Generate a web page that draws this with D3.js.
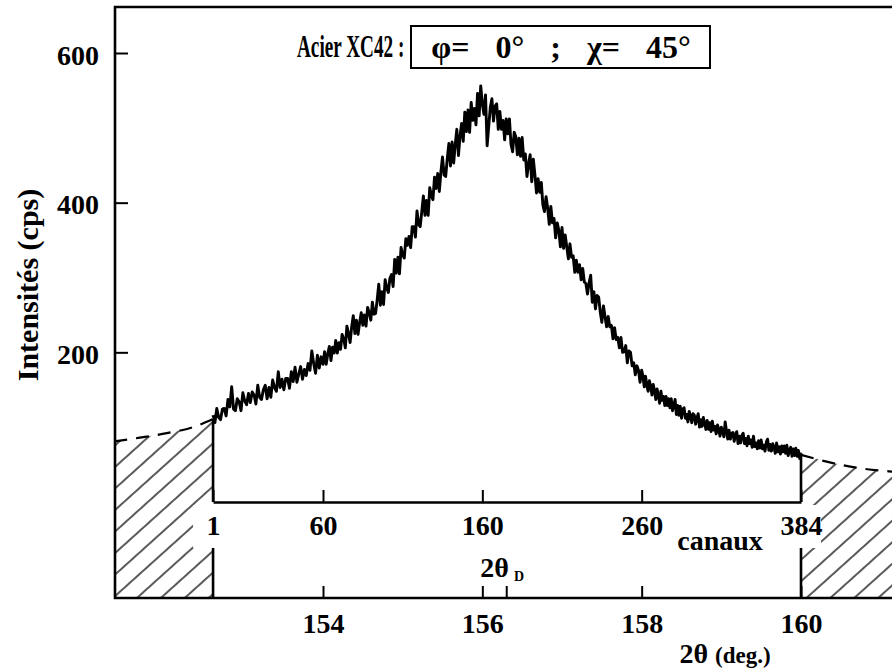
<!DOCTYPE html>
<html><head><meta charset="utf-8">
<script src="https://cdn.jsdelivr.net/npm/d3@7"></script>
<style>
body{margin:0;background:#fff}
svg{display:block}
text{font-family:"Liberation Serif","Times New Roman",serif;font-weight:bold;fill:#000}
</style>
</head><body><svg id="c" width="892" height="672"></svg>
<script>
// ---- data ----
const yTicks = [200, 400, 600];
const twoThetaTicks = [154, 156, 158, 160];
const twoThetaD = 156.3;
const channelTicks = [1, 60, 160, 260, 384];
const channelAt2Theta = [152.62, 154, 156, 158, 160];
const channelTickLabels = ["1", "60", "160", "260", "384"];
// measured intensity (cps), channels 1..384
const intensity = [
  116,106,125,113,110,124,125,115,137,127, 154,124,122,138,134,122,146,135,130,145,
  133,147,143,131,156,140,137,150,156,138, 153,140,163,153,148,174,153,164,150,165,
  165,152,174,161,180,160,171,181,164,177, 169,185,176,202,185,172,196,179,194,184,
  201,184,198,208,189,207,199,216,199,213, 204,224,218,206,235,225,213,234,249,225,
  243,224,240,253,236,250,235,260,253,243, 267,251,252,270,291,263,281,264,297,286,
  280,299,304,288,324,306,327,305,340,330, 326,352,343,355,340,368,368,354,389,371,
  368,388,409,383,403,383,420,410,404,434, 419,439,415,441,461,437,435,459,479,449,
  481,453,478,498,463,489,506,482,521,495, 524,494,534,510,526,504,546,516,556,532,
  518,544,476,502,527,539,509,529,532,498, 522,498,510,484,512,492,512,478,468,494,
  488,464,486,462,487,457,465,435,452,464, 428,458,437,413,432,414,427,397,388,408,
  393,371,395,373,379,353,373,363,341,367, 339,357,341,325,345,327,329,307,323,307,
  317,297,312,294,292,278,293,303,267,281, 258,276,274,254,240,262,248,234,248,234,
  236,218,233,217,220,206,220,200,201,209, 186,202,200,182,186,170,182,176,160,176,
  168,154,168,156,148,162,155,143,157,149, 137,151,142,132,148,136,141,129,141,129,
  138,126,138,122,129,137,117,129,116,128, 112,124,126,112,117,107,121,115,106,118,
  116,104,112,118,100,110,101,113,105,97, 109,97,106,94,108,96,101,91,103,97,
  88,100,95,87,107,95,84,96,84,92, 93,81,90,94,78,88,79,89,92,78,
  85,75,88,78,83,73,88,74,79,71, 82,72,83,71,76,68,80,84,69,77,
  68,78,73,65,79,67,74,64,75,67, 75,65,76,62,69,73,61,71,62,72,
  61,69,58,66
];
// extrapolated background (dashed) outside the detector window
const bgLeft2Theta = [151.38, 151.7, 152.04, 152.37, 152.62];
const bgLeftI = [81, 86, 92, 100, 111];
const bgRight2Theta = [160, 160.4, 160.75, 161.1, 161.5];
const bgRightI = [63, 52, 45, 41, 38];

// ---- layout ----
const L = 115, T = 7, B = 598, R = 910;
const FS = 28;

const svg = d3.select("#c");
const x2 = d3.scaleLinear().domain([154, 160]).range([323, 801]);
const xc = d3.scaleLinear().domain(channelTicks).range(channelAt2Theta.map(x2));
const y = d3.scaleLinear().domain([0, 600]).range([502, 53]);
const channels = d3.range(1, intensity.length + 1);

// hatch pattern
const defs = svg.append("defs");
defs.append("pattern").attr("id", "hatch").attr("patternUnits", "userSpaceOnUse")
  .attr("width", 12).attr("height", 16).attr("patternTransform", "rotate(-42)")
  .append("path").attr("d", "M-1,8H13").attr("stroke", "#000").attr("stroke-width", 1.3);

// hatched regions under the background extrapolation
const area = d3.area().x(d => x2(d[0])).y0(B).y1(d => y(d[1]));
svg.append("path").datum(bgLeft2Theta.map((t, i) => [t, bgLeftI[i]]))
  .attr("d", area).attr("fill", "url(#hatch)");
svg.append("path").datum(bgRight2Theta.map((t, i) => [t, bgRightI[i]]))
  .attr("d", area).attr("fill", "url(#hatch)");

// dashed background lines
const bline = d3.line().x(d => x2(d[0])).y(d => y(d[1])).curve(d3.curveMonotoneX);
[[bgLeft2Theta, bgLeftI], [bgRight2Theta, bgRightI]].forEach(([t, v]) => {
  svg.append("path").datum(t.map((a, i) => [a, v[i]])).attr("d", bline)
    .attr("fill", "none").attr("stroke", "#000").attr("stroke-width", 2.2)
    .attr("stroke-dasharray", "13,9");
});

// knock-outs behind labels "1" and "384"
[channelTicks[0], channelTicks[channelTicks.length - 1]].forEach(c => {
  svg.append("rect").attr("x", xc(c) - 20).attr("y", y(0) + 3)
    .attr("width", 40).attr("height", 43).attr("fill", "#fff");
});

// outer frame
svg.append("path").attr("d", `M${R},${T}H${L}V${B}H${R}`)
  .attr("fill", "none").attr("stroke", "#000").attr("stroke-width", 2.6);

// window edges (channel 1 and 384)
const c0 = channelTicks[0], c1 = channelTicks[channelTicks.length - 1];
[[c0, bgLeftI[bgLeftI.length - 1]], [c1, bgRightI[0]]].forEach(([c, v]) => {
  const xx = xc(c);
  svg.append("path").attr("d", `M${xx},${y(v)}V${y(0)}M${xx},${y(0) + 46}V${B}`)
    .attr("stroke", "#000").attr("stroke-width", 2.6).attr("fill", "none");
});

function styleAxis(g) {
  g.attr("font-size", null).attr("font-family", null);
  g.selectAll("text").attr("font-size", FS).attr("fill", "#000");
  g.selectAll("line").attr("stroke", "#000").attr("stroke-width", 2);
}

// y axis
const gy = svg.append("g").attr("transform", `translate(${L},0)`)
  .call(d3.axisLeft(y).tickValues(yTicks).tickSizeInner(-13).tickSizeOuter(0).tickPadding(16));
gy.select(".domain").remove();
styleAxis(gy);
gy.selectAll("text").attr("dy", "0.4em");

// channel axis
const gc = svg.append("g").attr("transform", `translate(0,${y(0)})`)
  .call(d3.axisBottom(xc).tickValues(channelTicks).tickSizeInner(-12).tickSizeOuter(0)
    .tickPadding(13).tickFormat((d, i) => channelTickLabels[i]));
gc.select(".domain").attr("stroke", "#000").attr("stroke-width", 2.6);
styleAxis(gc);

// 2theta axis
const gx = svg.append("g").attr("transform", `translate(0,${B})`)
  .call(d3.axisBottom(x2).tickValues(twoThetaTicks).tickSizeInner(-12).tickSizeOuter(0)
    .tickPadding(15).tickFormat(d3.format("d")));
gx.select(".domain").remove();
styleAxis(gx);
const gd = svg.append("g").attr("transform", `translate(0,${B})`)
  .call(d3.axisBottom(x2).tickValues([twoThetaD]).tickSizeInner(-12).tickSizeOuter(0).tickFormat(""));
gd.select(".domain").remove();
styleAxis(gd);

// measured profile
const line = d3.line().x((d, i) => xc(channels[i])).y(d => y(d));
svg.append("path").datum(intensity).attr("d", line)
  .attr("fill", "none").attr("stroke", "#000").attr("stroke-width", 2.9)
  .attr("stroke-linejoin", "round");

// texts
svg.append("text").attr("transform", "translate(297,57) scale(0.62,1)")
  .attr("font-size", 31).text("Acier  XC42 :");
svg.append("rect").attr("x", 411).attr("y", 26).attr("width", 299).attr("height", 42)
  .attr("fill", "none").attr("stroke", "#000").attr("stroke-width", 2);
svg.append("text").attr("x", 561).attr("y", 58).attr("text-anchor", "middle")
  .attr("font-size", 32).attr("word-spacing", 18)
  .text("\u03c6= 0\u00b0 ; \u03c7= 45\u00b0");

svg.append("text").attr("transform", `translate(38,285) rotate(-90)`)
  .attr("text-anchor", "middle").attr("font-size", 30).text("Intensités  (cps)");

svg.append("text").attr("x", 720).attr("y", 550).attr("text-anchor", "middle")
  .attr("font-size", FS).text("canaux");

const td = svg.append("text").attr("x", x2(twoThetaD) - 4).attr("y", 577)
  .attr("text-anchor", "middle").attr("font-size", FS);
td.append("tspan").text("2\u03b8");
td.append("tspan").attr("font-size", 14).attr("dx", 5).attr("dy", 4).text("D");

const tx = svg.append("text").attr("x", 725).attr("y", 663).attr("text-anchor", "middle")
  .attr("font-size", FS);
tx.append("tspan").text("2\u03b8 ");
tx.append("tspan").attr("font-size", 23).text("(deg.)");
</script>
</body></html>
